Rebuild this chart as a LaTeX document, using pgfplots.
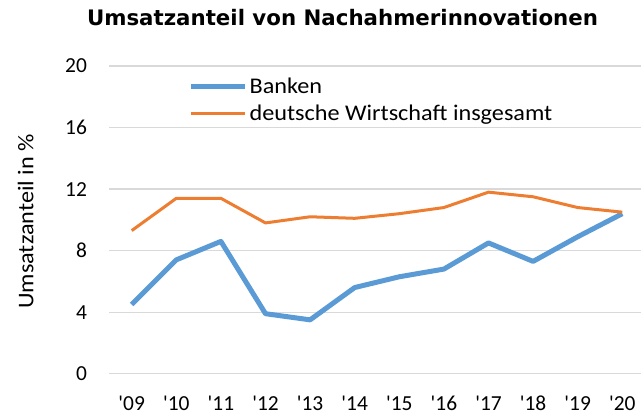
\documentclass[border=0pt]{standalone}
\usepackage{pgfplots}
\pgfplotsset{compat=1.18}
\usepackage{fontspec}
\setmainfont{Carlito}[Ligatures=TeXOff]
\newfontfamily\widefont{Carlito}[FakeStretch=1.08]
\newfontfamily\titlefont{DejaVu Sans}
\definecolor{cblue}{HTML}{5B9BD5}
\definecolor{corange}{HTML}{ED7D31}
\definecolor{cgrid}{HTML}{D9D9D9}
\begin{document}
\begin{tikzpicture}[x=1bp,y=1bp]
\begin{axis}[
  at={(109.4bp,42.3bp)}, anchor=south west,
  scale only axis, width=535.2bp, height=307.7bp,
  xmin=-0.5, xmax=11.5, ymin=0, ymax=20,
  axis line style={draw=none},
  tick style={draw=none},
  ytick={0,4,8,12,16,20},
  xtick={0,...,11},
  xticklabels={'09,'10,'11,'12,'13,'14,'15,'16,'17,'18,'19,'20},
  ymajorgrids, grid style={cgrid, line width=1.3bp},
  tick label style={font=\fontsize{21.5}{25}\selectfont},
  /pgf/number format/assume math mode=true,
  yticklabel style={xshift=-19bp},
  xticklabel style={yshift=-19bp},
  legend style={at={(rel axis cs:0.1476,0.967)}, anchor=north west, draw=none, fill=none,
    font=\widefont\fontsize{22.5}{26}\selectfont, row sep=6bp, inner sep=0pt},
  legend cell align=left,
  legend image code/.code={\draw[#1] (0bp,0bp) -- (54bp,0bp);},
  clip=false,
]
\addplot[cblue, line width=5bp, line join=round] coordinates {
 (0,4.5) (1,7.4) (2,8.6) (3,3.9) (4,3.5) (5,5.6) (6,6.3) (7,6.8) (8,8.5) (9,7.3) (10,8.9) (11,10.4)};
\addlegendentry{Banken}
\addplot[corange, line width=3bp, line join=round] coordinates {
 (0,9.3) (1,11.4) (2,11.4) (3,9.8) (4,10.2) (5,10.1) (6,10.4) (7,10.8) (8,11.8) (9,11.5) (10,10.8) (11,10.5)};
\addlegendentry{deutsche Wirtschaft insgesamt}
\end{axis}
\node[font=\titlefont\bfseries\fontsize{21.4}{25}\selectfont, anchor=base, inner sep=0pt] at (342.5bp,390bp) {Umsatzanteil von Nachahmerinnovationen};
\node[font=\widefont\fontsize{22.5}{26}\selectfont, rotate=90, anchor=base, inner sep=0pt] at (33.3bp,194.5bp) {Umsatzanteil in \%};
\pgfresetboundingbox
\useasboundingbox (0,0) rectangle (641bp,416bp);
\end{tikzpicture}
\end{document}
